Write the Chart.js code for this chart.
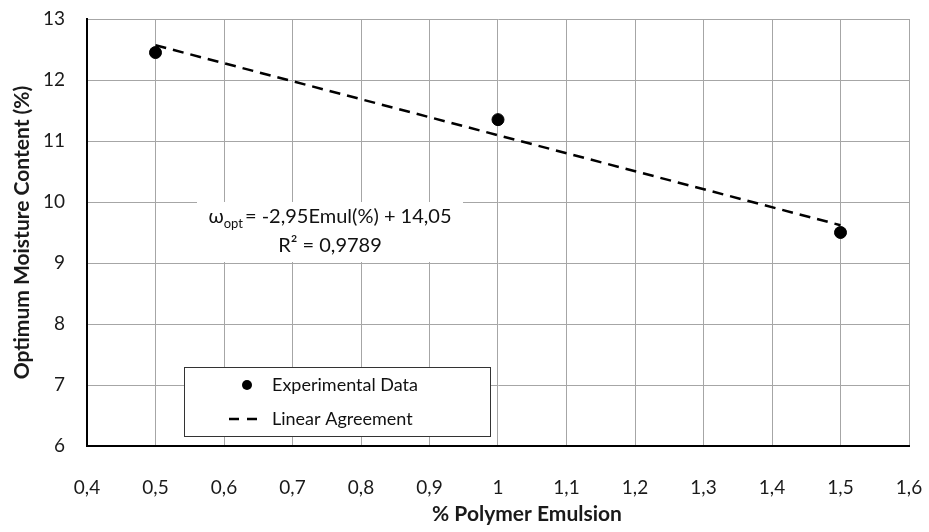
<!DOCTYPE html>
<html>
<head>
<meta charset="utf-8">
<script src="https://cdn.jsdelivr.net/npm/chart.js@4/dist/chart.umd.min.js"></script>
<style>
  html, body { margin: 0; padding: 0; background: #fff; }
  #wrap { width: 929px; height: 532px; }
</style>
</head>
<body>
<div id="wrap"><canvas id="chart"></canvas></div>
<script>
// data
const polymerPct = [0.5, 1, 1.5];
const moisture = [12.45, 11.35, 9.5];
const trendX = [0.5, 1.5];
const trendY = [12.57, 9.62];
const eqLines = ['= -2,95Emul(%) + 14,05', 'R² = 0,9789'];
const legendLabels = ['Experimental Data', 'Linear Agreement'];
const xTitle = '% Polymer Emulsion';

const FONT = 'Lato, "Open Sans", sans-serif';

const toComma = v => Number(v.toFixed(1)).toString().replace('.', ',');

// equation box, legend box, x title
const overlay = {
  id: 'overlay',
  beforeDatasetsDraw(chart) {
    const ctx = chart.ctx;
    ctx.save();
    ctx.fillStyle = '#fff';
    ctx.fillRect(197, 202, 266, 60);
    ctx.fillStyle = '#111';
    ctx.textBaseline = 'middle';
    ctx.textAlign = 'left';
    ctx.font = '20px ' + FONT;
    const w0 = ctx.measureText('ω').width;
    const w2 = ctx.measureText(eqLines[0]).width;
    ctx.font = '13px ' + FONT;
    const w1 = ctx.measureText('opt').width;
    let x = 330 - (w0 + w1 + 2 + w2) / 2;
    ctx.font = '20px ' + FONT;
    ctx.fillText('ω', x, 217);
    ctx.fillText(eqLines[0], x + w0 + w1 + 2, 217);
    ctx.font = '13px ' + FONT;
    ctx.fillText('opt', x + w0, 224);
    ctx.font = '20px ' + FONT;
    ctx.textAlign = 'center';
    ctx.fillText(eqLines[1], 330, 246);

    ctx.font = 'bold 21px ' + FONT;
    ctx.fillStyle = '#1a1a1a';
    ctx.fillText(xTitle, 527, 514);
    ctx.restore();
  },
  afterDatasetsDraw(chart) {
    const ctx = chart.ctx;
    ctx.save();
    ctx.fillStyle = '#fff';
    ctx.fillRect(184, 367, 306, 69);
    ctx.strokeStyle = '#333';
    ctx.lineWidth = 1;
    ctx.strokeRect(184.5, 367.5, 306, 69);
    ctx.fillStyle = '#000';
    ctx.beginPath();
    ctx.arc(247, 385, 5, 0, Math.PI * 2);
    ctx.fill();
    ctx.strokeStyle = '#000';
    ctx.lineWidth = 2.5;
    ctx.setLineDash([10, 8]);
    ctx.beginPath();
    ctx.moveTo(229, 419);
    ctx.lineTo(257, 419);
    ctx.stroke();
    ctx.setLineDash([]);
    ctx.fillStyle = '#111';
    ctx.font = '18px ' + FONT;
    ctx.textAlign = 'left';
    ctx.textBaseline = 'middle';
    ctx.fillText(legendLabels[0], 272, 385);
    ctx.fillText(legendLabels[1], 272, 419);
    ctx.restore();
  }
};

new Chart(document.getElementById('chart'), {
  type: 'scatter',
  data: {
    datasets: [
      {
        label: legendLabels[1],
        type: 'line',
        data: trendX.map((x, i) => ({ x: x, y: trendY[i] })),
        borderColor: '#000',
        borderWidth: 2.5,
        borderDash: [11, 7],
        pointRadius: 0,
        fill: false
      },
      {
        label: legendLabels[0],
        data: polymerPct.map((x, i) => ({ x: x, y: moisture[i] })),
        backgroundColor: '#000',
        borderColor: '#000',
        pointRadius: 6,
        pointHoverRadius: 6
      }
    ]
  },
  options: {
    responsive: true,
    maintainAspectRatio: false,
    animation: false,
    layout: { padding: { top: 19, right: 20, bottom: 0, left: 0 } },
    plugins: { legend: { display: false }, tooltip: { enabled: false } },
    scales: {
      x: {
        type: 'linear',
        min: 0.4,
        max: 1.6,
        afterFit: s => {
          s.height = 86;
          s.paddingLeft = 0;
          s.paddingRight = 0;
        },
        ticks: {
          stepSize: 0.1,
          padding: 30,
          color: '#1a1a1a',
          font: { family: FONT, size: 19 },
          callback: v => toComma(v)
        },
        grid: { color: '#a6a6a6', lineWidth: 1, drawTicks: false },
        border: { color: '#000', width: 2 }
      },
      y: {
        min: 6,
        max: 13,
        afterFit: s => {
          s.width = 87;
          s.paddingTop = 0;
          s.paddingBottom = 0;
        },
        ticks: {
          stepSize: 1,
          padding: 22,
          color: '#1a1a1a',
          font: { family: FONT, size: 19 }
        },
        grid: { color: '#a6a6a6', lineWidth: 1, drawTicks: false },
        border: { color: '#000', width: 2 },
        title: {
          display: true,
          text: 'Optimum Moisture Content (%)',
          color: '#1a1a1a',
          font: { family: FONT, size: 21, weight: 'bold' },
          padding: { top: 10, bottom: 0 }
        }
      }
    }
  },
  plugins: [overlay]
});
</script>
</body>
</html>
